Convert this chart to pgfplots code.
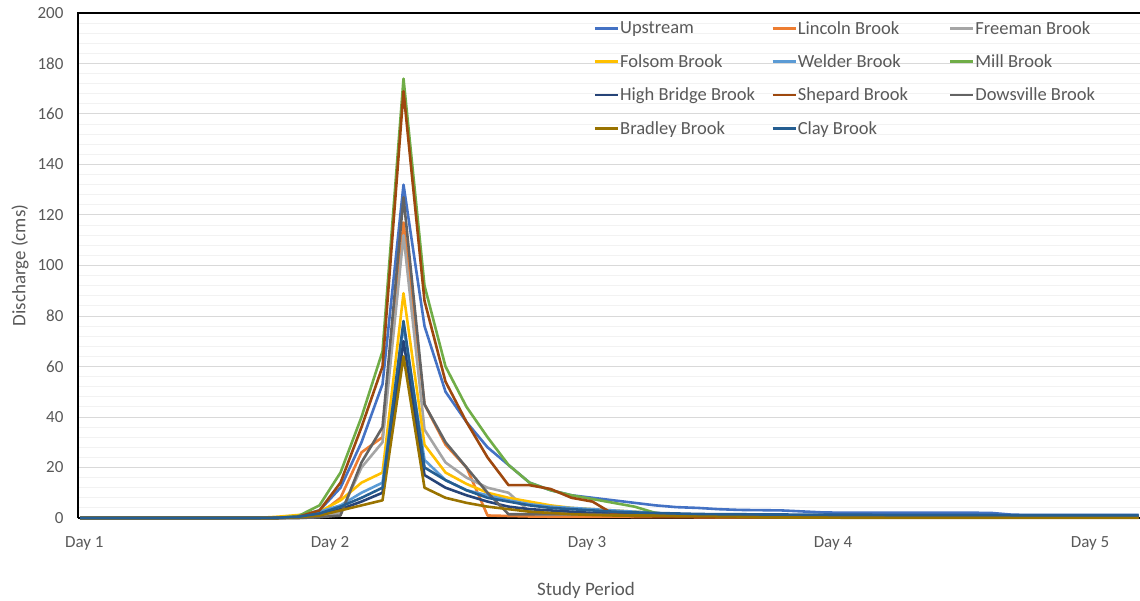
\documentclass[border=0pt]{standalone}
\usepackage{pgfplots}
\usepackage{pgfplotstable}
\pgfplotsset{compat=1.18}
\usepackage{fontspec}
\setmainfont{Carlito}
\definecolor{cUp}{HTML}{4472C4}
\definecolor{cLin}{HTML}{ED7D31}
\definecolor{cFree}{HTML}{A5A5A5}
\definecolor{cFol}{HTML}{FFC000}
\definecolor{cWel}{HTML}{5B9BD5}
\definecolor{cMill}{HTML}{70AD47}
\definecolor{cHB}{HTML}{264478}
\definecolor{cShep}{HTML}{9E480E}
\definecolor{cDow}{HTML}{636363}
\definecolor{cBrad}{HTML}{997300}
\definecolor{cClay}{HTML}{255E91}
\definecolor{gridmaj}{HTML}{D9D9D9}
\definecolor{gridmin}{HTML}{F2F2F2}
\definecolor{labgray}{HTML}{595959}
\pgfplotstableread{
i up lin free fol wel mill hb shep dow brad clay
-0.4 0 0 0 0 0 0 0 0 0 0 0
1 0 0 0 0 0 0 0 0 0 0 0
2 0 0 0 0 0 0 0 0 0 0 0
3 0 0 0 0 0 0 0 0 0 0 0
4 0 0 0 0 0 0 0 0 0 0 0
5 0 0 0 0 0 0 0 0 0 0 0
6 0 0 0 0 0 0 0 0 0 0 0
7 0 0 0 0 0 0 0 0 0 0 0
8 0 0 0 0 0 0 0 0 0 0 0
9 0.2 0 0 0.5 0.1 0 0 0 0 0 0.1
10 0.8 0.3 0 1.2 0.6 0.8 0.3 0.5 0 0.3 0.5
11 3 1.5 0.5 2.5 2.5 5 1.2 3 0.3 1 1.8
12 12 8 2 7 5 18 3.5 14 1 3 4.5
13 30 26 20 14 10 40 6.5 36 22 5 8
14 53 32 30 18 14 66 10 60 36 7 12
15 132 117 112 89 76 174 70 169 127 64 78
16 76 45 35 29 23 92 17 86 45 12 20
17 50 29 22 18 15 60 12 54 30 8 15
18 38 20 16 13.5 11 44 9 38 20 6 11
19 28 1 12 10 9 32 6.5 24 10 4.5 8
20 21 0.8 10 8 7 21 4.5 13 1.5 3.5 6.5
21 14 0.6 2.5 6.5 5.5 14 3.5 13 1.5 2.5 5
22 11 0.5 2 5 4.5 11 3 11.5 1.5 2 4
23 9 0.5 1.8 4 4 9 2.5 8 1.5 1.5 3.5
24 8 0.5 1.6 3.5 3.5 7.5 2 6.5 1.5 1.2 3
25 7 0.5 1.5 3 3 6 1.8 1.5 1.2 1 2.5
26 6 0.4 1.4 2.5 2.5 4.5 1.6 0.7 1.2 1 2.2
27 5 0.4 1.3 2 2 2 1.5 0.6 1 1 2
28 4.3 0.4 1.2 1 1.5 1 1.4 0.5 1 0.8 1.8
29 4 0.3 1.1 0.6 1.3 0.7 1.3 0.5 1 0.8 1.6
30 3.5 0.3 1 0.5 1.2 0.6 1.2 0.5 0.9 0.7 1.5
31 3.2 0.3 1 0.5 1.1 0.5 1.1 0.4 0.9 0.6 1.5
32 3.1 0.3 1 0.5 1 0.5 1 0.4 0.8 0.3 1.4
33 3 0.3 0.9 0.4 1 0.5 1 0.4 0.8 0.2 1.4
34 2.6 0.2 0.9 0.4 1 0.4 1 0.4 0.8 0.2 1.3
35 2.2 0.2 0.9 0.4 1 0.4 1 0.4 0.8 0.2 1.3
36 2.1 0.2 0.8 0.3 0.9 0.3 0.9 0.3 0.7 0.1 1.3
37 2.1 0.2 0.8 0.3 0.9 0.3 0.9 0.3 0.7 0.1 1.3
38 2.1 0.2 0.8 0.3 0.9 0.3 0.9 0.3 0.7 0.1 1.2
39 2.1 0.2 0.8 0.3 0.9 0.3 0.9 0.3 0.7 0.1 1.2
40 2.1 0.2 0.8 0.3 0.9 0.3 0.9 0.3 0.7 0.1 1.2
41 2.1 0.2 0.8 0.3 0.9 0.3 0.9 0.3 0.7 0.1 1.2
42 2.1 0.2 0.8 0.3 0.9 0.3 0.9 0.3 0.7 0.1 1.2
43 2.0 0.2 0.8 0.3 0.9 0.3 0.9 0.3 0.7 0.1 1.2
44 1.3 0.2 0.7 0.3 0.8 0.3 0.8 0.3 0.6 0.1 1.1
45 1.2 0.2 0.7 0.3 0.8 0.3 0.8 0.3 0.6 0.1 1.1
46 1.2 0.2 0.7 0.3 0.8 0.3 0.8 0.3 0.6 0.1 1.1
47 1.2 0.2 0.7 0.3 0.8 0.3 0.8 0.3 0.6 0.1 1.1
48 1.2 0.2 0.7 0.3 0.8 0.3 0.8 0.3 0.6 0.1 1.1
49 1.2 0.2 0.7 0.3 0.8 0.3 0.8 0.3 0.6 0.1 1.1
50 1.2 0.2 0.7 0.3 0.8 0.3 0.8 0.3 0.6 0.1 1.1
}\flowdata
\newcommand{\legtxt}[1]{\makebox[150pt][l]{#1}}
\begin{document}
\begin{tikzpicture}
\useasboundingbox (-78pt,-82pt) rectangle (1062pt,518pt);
\begin{axis}[
  at={(0pt,0pt)}, anchor=south west,
  scale only axis, width=1062pt, height=505pt,
  xmin=-0.5, xmax=50.07, ymin=0, ymax=200,
  ytick={0,20,...,200}, minor y tick num=4,
  ymajorgrids, yminorgrids,
  major grid style={draw=gridmaj, line width=1pt},
  minor grid style={draw=gridmin, line width=1pt},
  xtick={-0.2,11.5,23.74,35.45,47.69},
  xticklabels={Day 1,Day 2,Day 3,Day 4,Day 5},
  major tick length=0pt, minor tick length=0pt,
  axis line style={draw=none},
  tick label style={font=\fontsize{17}{20}\selectfont, text=labgray},
  yticklabel style={xshift=-11pt},
  xticklabel style={yshift=-15pt},
  /pgf/number format/assume math mode=true,
  clip=false,
  every axis plot/.append style={line width=2.6pt, line join=round},
  legend columns=3,
  legend cell align=left,
  legend image code/.code={\draw[#1] (0pt,0pt) -- (23pt,0pt);},
  legend style={at={(rel axis cs:0.4825,0.99)}, anchor=north west, draw=none, fill=none,
    font=\fontsize{18.5}{21}\selectfont, text=labgray, row sep=17pt,
    nodes={inner sep=1pt}},
]
\draw[black, line width=1.2pt] (rel axis cs:0,0) -- (rel axis cs:0,1) -- (rel axis cs:1,1);
\draw[black, line width=1.4pt] (rel axis cs:0,0) -- (rel axis cs:1,0);
\addplot[cUp] table[x=i,y=up]{\flowdata};
\addlegendentry{\legtxt{Upstream}}
\addplot[cLin] table[x=i,y=lin]{\flowdata};
\addlegendentry{\legtxt{Lincoln Brook}}
\addplot[cFree] table[x=i,y=free]{\flowdata};
\addlegendentry{\legtxt{Freeman Brook}}
\addplot[cFol] table[x=i,y=fol]{\flowdata};
\addlegendentry{\legtxt{Folsom Brook}}
\addplot[cWel] table[x=i,y=wel]{\flowdata};
\addlegendentry{\legtxt{Welder Brook}}
\addplot[cMill] table[x=i,y=mill]{\flowdata};
\addlegendentry{\legtxt{Mill Brook}}
\addplot[cHB] table[x=i,y=hb]{\flowdata};
\addlegendentry{\legtxt{High Bridge Brook}}
\addplot[cShep] table[x=i,y=shep]{\flowdata};
\addlegendentry{\legtxt{Shepard Brook}}
\addplot[cDow] table[x=i,y=dow]{\flowdata};
\addlegendentry{\legtxt{Dowsville Brook}}
\addplot[cBrad] table[x=i,y=brad]{\flowdata};
\addlegendentry{\legtxt{Bradley Brook}}
\addplot[cClay] table[x=i,y=clay]{\flowdata};
\addlegendentry{\legtxt{Clay Brook}}
\end{axis}
\node[rotate=90, font=\fontsize{19}{22}\selectfont, text=labgray] at (-58pt,252.5pt) {Discharge (cms)};
\node[font=\fontsize{19}{22}\selectfont, text=labgray] at (508pt,-72pt) {Study Period};
\end{tikzpicture}
\end{document}
